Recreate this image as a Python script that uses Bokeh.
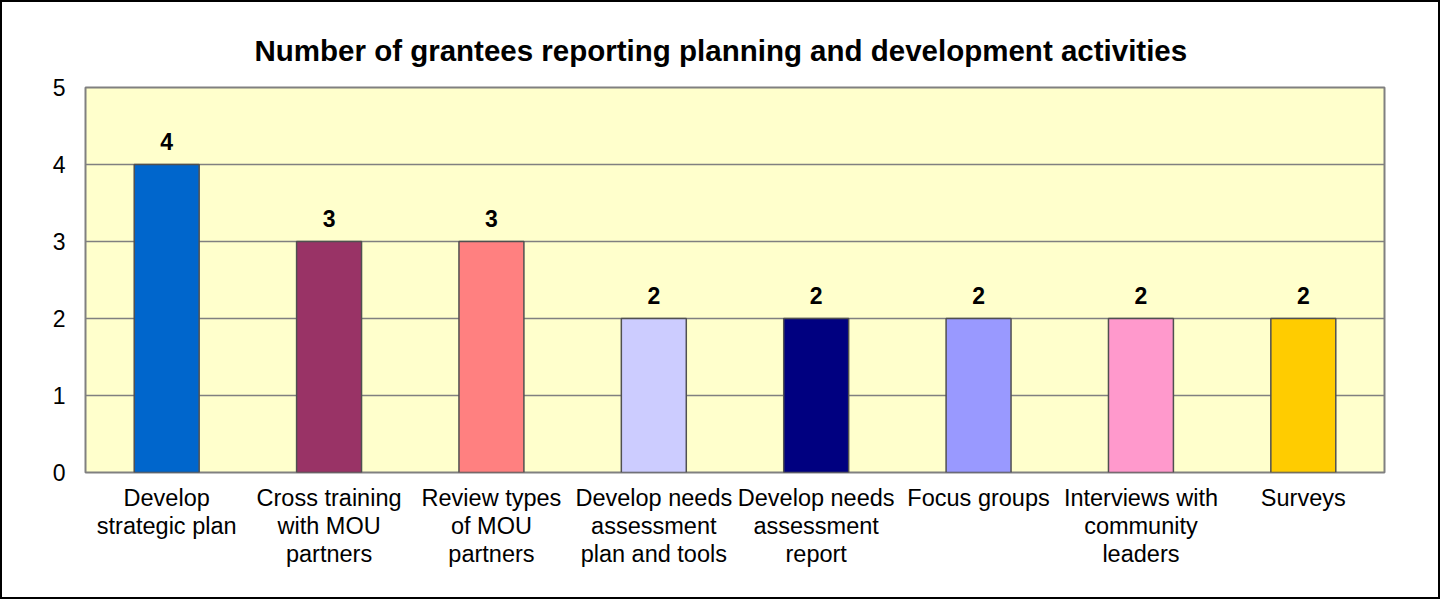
from bokeh.plotting import figure
from bokeh.models import ColumnDataSource, FactorRange, Range1d, FixedTicker
from bokeh.core.properties import value
from bokeh.embed import file_html
from bokeh.resources import INLINE

categories = [
    "Develop\nstrategic plan",
    "Cross training\nwith MOU\npartners",
    "Review types\nof MOU\npartners",
    "Develop needs\nassessment\nplan and tools",
    "Develop needs\nassessment\nreport",
    "Focus groups",
    "Interviews with\ncommunity\nleaders",
    "Surveys",
]
counts = [4, 3, 3, 2, 2, 2, 2, 2]
colors = ["#0066CC", "#993366", "#FF8080", "#CCCCFF", "#000080", "#9999FF", "#FF99CC", "#FFCC00"]
y_ticks = [0, 1, 2, 3, 4, 5]
title_text = "Number of grantees reporting planning and development activities"

source = ColumnDataSource(dict(
    cat=categories, n=counts, color=colors, label=[str(v) for v in counts],
))

FONT = "Liberation Sans"

p = figure(
    x_range=FactorRange(*categories, range_padding=0),
    y_range=Range1d(0, 5),
    frame_width=1299, frame_height=385,
    min_border_left=83, min_border_right=54, min_border_top=85, min_border_bottom=125,
    output_backend="svg", toolbar_location=None,
    title=title_text,
)
p.styles = {"border": "2px solid black"}

p.title.text_font = FONT
p.title.text_font_size = "29.5px"
p.title.text_font_style = "bold"
p.title.text_color = "black"
p.title.align = "left"
p.title.offset = 169
p.title.standoff = 41

p.background_fill_color = "#FFFFCC"
p.border_fill_color = "white"
p.outline_line_color = "#808080"
p.outline_line_width = 2

p.vbar(x="cat", top="n", width=0.4, bottom=0, source=source,
       fill_color="color", line_color="#505050", line_width=1.5)

p.text(x="cat", y="n", text="label", source=source,
       text_font=value(FONT), text_font_size="23px", text_font_style="bold",
       text_align="center", text_baseline="alphabetic", y_offset=-23,
       text_color="black")

p.xgrid.grid_line_color = None
p.ygrid.grid_line_color = "#808080"
p.ygrid.grid_line_width = 1.5
p.yaxis.ticker = FixedTicker(ticks=y_ticks)

for ax in (p.xaxis[0], p.yaxis[0]):
    ax.axis_line_color = None
    ax.major_tick_line_color = None
    ax.minor_tick_line_color = None
    ax.major_tick_out = 0
    ax.major_tick_in = 0
    ax.major_label_text_font = FONT
    ax.major_label_text_color = "black"

p.yaxis.major_label_text_font_size = "23px"
p.xaxis.major_label_text_font_size = "23.5px"
p.xaxis.major_label_text_line_height = 1.09
p.yaxis.major_label_standoff = 20
p.xaxis.major_label_standoff = 12
p.xaxis.major_label_orientation = "horizontal"

open("out.html", "w").write(file_html(p, INLINE))
